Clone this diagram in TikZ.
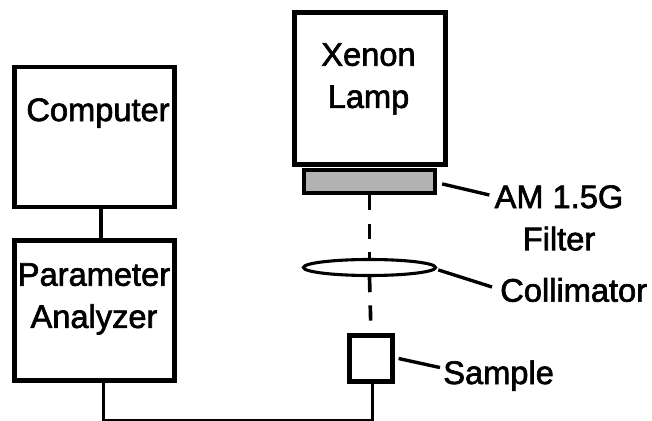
\documentclass[tikz,border=0pt]{standalone}
\usepackage{fontspec}
\setmainfont{Liberation Sans}
\newfontfamily\lblfont[FakeBold=2]{Liberation Sans}
\usetikzlibrary{shapes.geometric}
\begin{document}
\begin{tikzpicture}[
		box/.style={draw, line width=3pt, inner sep=0pt},
		wire/.style={line width=2.6pt},
		lead/.style={line width=2.4pt},
		beam/.style={line width=2.6pt, dash pattern=on 0.38cm off 0.33cm},
		lbl/.style={inner sep=0pt, align=center, font=\lblfont\fontsize{23.2}{30}\selectfont}]
				
				% Khung hình (giữ đúng tỉ lệ)
				\clip (0,0) rectangle (16.3,10.5);
				
				% Các khối bên trái: máy tính và máy phân tích
				\node[box, minimum width=4cm, minimum height=3.5cm] (comp) at (2.3625,7.075) {};
				\node[box, minimum width=4cm, minimum height=3.5cm] (pa) at (2.3625,2.7375) {};
				\node[lbl, anchor=north] (comptxt) at (2.45,8.05) {Computer};
				\node[lbl, anchor=north] (patxt) at (2.35,3.925) {Parameter\\Analyzer};
				
				% Đèn, kính lọc, thấu kính và mẫu
				\node[box, minimum width=3.775cm, minimum height=3.8cm] (lamp) at (9.25,8.2875) {};
				\node[lbl, anchor=north] (lamptxt) at (9.2125,9.425) {Xenon\\Lamp};
				\node[box, fill=black!30, minimum width=3.275cm, minimum height=0.575cm] (filt) at (9.2375,5.9625) {};
				\node[box, ellipse, line width=2.2pt, minimum width=3.3cm, minimum height=0.4cm] (ell) at (9.2375,3.8125) {};
				\node[box, minimum width=1.075cm, minimum height=1.15cm] (samp) at (9.275,1.5375) {};
				
				% Đường đi của chùm sáng
				\draw[beam] (filt.south) -- (ell.north);
				\draw[beam] (ell.south) -- (samp.north);
				
				% Dây nối
				\coordinate (gnd) at (5,-0.02);
				\draw[wire] ([xshift=0.155cm]comp.south) -- ([xshift=0.155cm]pa.north);
				\draw[wire] ([xshift=0.225cm]pa.south) |- (gnd) -| ([xshift=0.04cm]samp.south);
				
				% Nhãn bên phải
				\node[lbl, anchor=north] (amtxt) at (13.975,5.875) {AM 1.5G\\Filter};
				\node[lbl, anchor=west] (colltxt) at (12.5,3.25) {Collimator};
				\node[lbl, anchor=base west] (samptxt) at (11.075,0.9) {Sample};
				
				\draw[lead] ([xshift=0.125cm, yshift=-0.06cm]filt.east) -- ([xshift=-0.125cm, yshift=-0.25cm]amtxt.north west);
				\draw[lead] ([xshift=0.03cm, yshift=-0.06cm]ell.east) -- ([xshift=-0.2cm, yshift=0.075cm]colltxt.west);
				\draw[lead] ([xshift=0.1cm]samp.east) -- ([xshift=-0.075cm, yshift=0.2cm]samptxt.west);
				
			\end{tikzpicture}
\end{document}
